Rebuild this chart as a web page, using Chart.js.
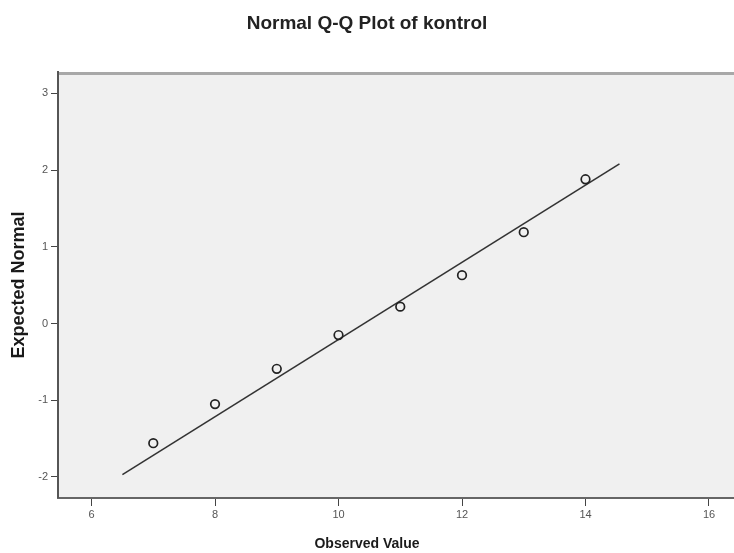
<!DOCTYPE html>
<html>
<head>
<meta charset="utf-8">
<script src="https://cdn.jsdelivr.net/npm/chart.js"></script>
<style>
  html, body { margin: 0; padding: 0; background: #fff; }
  #qq { display: block; }
</style>
</head>
<body>
<canvas id="qq" width="734" height="553"></canvas>
<script type="text/javascript">

// observed values and their expected normal scores
const observed = [7, 8, 9, 10, 11, 12, 13, 14];
const expected = [-1.56, -1.05, -0.59, -0.15, 0.22, 0.63, 1.19, 1.88];

// reference line end points
const lineX = [6.5, 14.55];
const lineY = [-1.97, 2.08];

const xTicks = [6, 8, 10, 12, 14, 16];
const yTicks = [-2, -1, 0, 1, 2, 3];

const FONT = "'Liberation Sans', Arial, sans-serif";

// grey plot background + the light top frame line
const plotBackground = {
    id: 'plotBackground',
    beforeDraw(chart) {
        const { ctx, chartArea: a } = chart;
        ctx.save();
        ctx.fillStyle = '#f0f0f0';
        ctx.fillRect(a.left, a.top, a.right - a.left, a.bottom - a.top);
        ctx.strokeStyle = '#a8a8a8';
        ctx.lineWidth = 3;
        ctx.beginPath();
        ctx.moveTo(a.left, a.top + 1.5);
        ctx.lineTo(a.right, a.top + 1.5);
        ctx.stroke();
        ctx.restore();
    }
};

const ctx = document.getElementById('qq').getContext('2d');
const chart = new Chart(ctx, {
    type: 'scatter',
    data: {
        datasets: [{
            label: 'kontrol',
            data: observed.map((x, i) => ({ x: x, y: expected[i] })),
            pointStyle: 'circle',
            pointRadius: 4.3,
            pointBorderWidth: 1.7,
            pointBorderColor: '#222',
            pointBackgroundColor: 'rgba(0,0,0,0)',
            order: 1
        }, {
            label: 'line',
            type: 'line',
            data: lineX.map((x, i) => ({ x: x, y: lineY[i] })),
            borderColor: '#333',
            borderWidth: 1.6,
            pointRadius: 0,
            fill: false,
            order: 2
        }]
    },
    options: {
        responsive: false,
        animation: false,
        maintainAspectRatio: false,
        layout: { padding: 0, autoPadding: false },
        plugins: {
            legend: { display: false },
            tooltip: { enabled: false },
            title: {
                display: true,
                text: 'Normal Q-Q Plot of kontrol',
                color: '#222',
                font: { family: FONT, size: 19, weight: 'bold', lineHeight: 1.2 },
                padding: { top: 12, bottom: 37.2 }
            },
            subtitle: {
                display: true,
                position: 'bottom',
                text: 'Observed Value',
                color: '#1a1a1a',
                font: { family: FONT, size: 14, weight: 'bold', lineHeight: 1.2 },
                padding: { top: 10, bottom: 0 }
            }
        },
        scales: {
            x: {
                type: 'linear',
                min: 5.457,
                max: 16.405,
                afterBuildTicks: s => { s.ticks = xTicks.map(v => ({ value: v })); },
                afterFit: s => {
                    s.height = 553 - 26.8 - 498;
                    s.paddingLeft = 0;
                    s.paddingRight = 0;
                },
                ticks: {
                    color: '#555',
                    font: { family: FONT, size: 11 },
                    padding: 2
                },
                grid: {
                    drawOnChartArea: false,
                    drawTicks: true,
                    tickLength: 8,
                    color: '#444',
                    lineWidth: 1
                },
                border: { display: true, color: '#666', width: 2 }
            },
            y: {
                type: 'linear',
                min: -2.274,
                max: 3.278,
                afterBuildTicks: s => { s.ticks = yTicks.map(v => ({ value: v })); },
                afterFit: s => {
                    s.width = 58;
                    s.paddingTop = 0;
                    s.paddingBottom = 0;
                },
                ticks: {
                    color: '#555',
                    font: { family: FONT, size: 11 },
                    padding: 3
                },
                grid: {
                    drawOnChartArea: false,
                    drawTicks: true,
                    tickLength: 7,
                    color: '#444',
                    lineWidth: 1
                },
                border: { display: true, color: '#555', width: 2 },
                title: {
                    display: true,
                    text: 'Expected Normal',
                    color: '#1a1a1a',
                    font: { family: FONT, size: 18, weight: 'bold', lineHeight: 1.2 },
                    padding: { top: 8, bottom: 0 }
                }
            }
        }
    },
    plugins: [plotBackground]
});
</script>
</body>
</html>
